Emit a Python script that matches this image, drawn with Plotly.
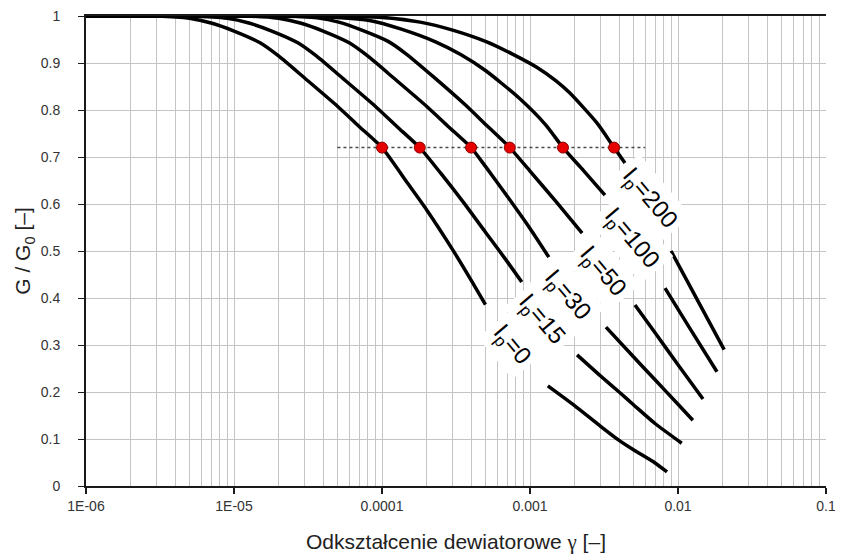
import plotly.graph_objects as go

# ---- data ----
ip_names = ["I<sub>p</sub>=0", "I<sub>p</sub>=15", "I<sub>p</sub>=30",
            "I<sub>p</sub>=50", "I<sub>p</sub>=100", "I<sub>p</sub>=200"]

gamma_ip0 = [1e-6, 3e-6, 5e-6, 7e-6, 1e-5, 1.5e-5, 2e-5, 3e-5, 5e-5, 7e-5, 1e-4,
             1.5e-4, 2e-4, 3e-4, 4e-4, 5e-4, None,
             1.32e-3, 2e-3, 3e-3, 4e-3, 5e-3, 7e-3, 8.43e-3]
g_ip0 = [1.0, 1.0, 0.995, 0.985, 0.968, 0.943, 0.915, 0.868, 0.808, 0.765, 0.72,
         0.643, 0.588, 0.503, 0.438, 0.386, None,
         0.213, 0.171, 0.127, 0.097, 0.077, 0.049, 0.030]

gamma_ip15 = [1e-6, 5e-6, 9e-6, 1.26e-5, 1.8e-5, 2.7e-5, 3.6e-5, 5.4e-5, 9e-5, 1.26e-4, 1.8e-4,
              2.5e-4, 3.5e-4, 5e-4, 7e-4, 8.8e-4, None,
              2.08e-3, 3e-3, 4e-3, 5e-3, 7e-3, 1.06e-2]
g_ip15 = [1.0, 1.0, 0.995, 0.985, 0.968, 0.943, 0.915, 0.868, 0.808, 0.765, 0.72,
          0.665, 0.606, 0.540, 0.478, 0.434, None,
          0.279, 0.234, 0.200, 0.173, 0.133, 0.091]

gamma_ip30 = [1e-6, 1.2e-5, 2e-5, 2.8e-5, 4e-5, 6e-5, 8e-5, 1.2e-4, 2e-4, 2.8e-4, 4e-4,
              5e-4, 7e-4, 1e-3, 1.34e-3, None,
              3.26e-3, 5e-3, 7e-3, 1e-2, 1.26e-2]
g_ip30 = [1.0, 1.0, 0.995, 0.985, 0.968, 0.943, 0.915, 0.868, 0.808, 0.765, 0.72,
          0.68, 0.617, 0.548, 0.487, None,
          0.338, 0.275, 0.226, 0.174, 0.140]

gamma_ip50 = [1e-6, 2.2e-5, 3.65e-5, 5.1e-5, 7.3e-5, 1.1e-4, 1.46e-4, 2.2e-4, 3.65e-4, 5.1e-4, 7.3e-4,
              1e-3, 1.5e-3, 2.25e-3, None,
              5.12e-3, 7e-3, 1e-2, 1.475e-2]
g_ip50 = [1.0, 1.0, 0.996, 0.987, 0.970, 0.946, 0.919, 0.872, 0.811, 0.767, 0.72,
          0.67, 0.605, 0.538, None,
          0.385, 0.326, 0.258, 0.185]

gamma_ip100 = [1e-6, 1.67e-5, 5e-5, 8.4e-5, 1.35e-4, 2.3e-4, 3.4e-4, 5e-4, 8.4e-4, 1.28e-3, 1.67e-3,
               2.3e-3, 3.21e-3, None,
               8.17e-3, 1.2e-2, 1.834e-2]
g_ip100 = [1.0, 1.0, 0.997, 0.990, 0.972, 0.945, 0.918, 0.884, 0.826, 0.768, 0.72,
           0.671, 0.619, None,
           0.421, 0.336, 0.243]

gamma_ip200 = [1e-6, 3.7e-5, 1e-4, 1.81e-4, 3e-4, 5.1e-4, 7.5e-4, 1.11e-3, 1.5e-3, 1.86e-3, 2.84e-3, 3.7e-3,
               4.38e-3, None,
               8.97e-3, 1.4e-2, 2.05e-2]
g_ip200 = [1.0, 1.0, 0.997, 0.987, 0.970, 0.945, 0.920, 0.891, 0.862, 0.836, 0.772, 0.72,
           0.687, None,
           0.500, 0.387, 0.290]

dot_gamma = [1.0e-4, 1.8e-4, 4.0e-4, 7.3e-4, 1.67e-3, 3.7e-3]
dot_g = [0.72, 0.72, 0.72, 0.72, 0.72, 0.72]

ref_gamma = [5e-5, 6e-3]
ref_g = [0.72, 0.72]

x_tickvals = [1e-6, 1e-5, 1e-4, 1e-3, 1e-2, 1e-1]
x_ticktext = ["1E-06", "1E-05", "0.0001", "0.001", "0.01", "0.1"]
y_tickvals = [0, 0.1, 0.2, 0.3, 0.4, 0.5, 0.6, 0.7, 0.8, 0.9, 1.0]
y_ticktext = ["0", "0.1", "0.2", "0.3", "0.4", "0.5", "0.6", "0.7", "0.8", "0.9", "1"]

# label centres (log10 gamma, G) for the rotated curve labels
label_logx = [-3.122, -2.919, -2.75, -2.507, -2.318, -2.196]
label_y = [0.300, 0.353, 0.406, 0.455, 0.526, 0.611]

curves = [(gamma_ip0, g_ip0), (gamma_ip15, g_ip15), (gamma_ip30, g_ip30),
          (gamma_ip50, g_ip50), (gamma_ip100, g_ip100), (gamma_ip200, g_ip200)]

fig = go.Figure()

fig.add_trace(go.Scatter(x=ref_gamma, y=ref_g, mode="lines",
                         line=dict(color="#4a4a4a", width=1.5, dash="dot"),
                         showlegend=False, hoverinfo="skip"))

for (gx, gy), name in zip(curves, ip_names):
    fig.add_trace(go.Scatter(x=gx, y=gy, mode="lines", name=name,
                             line=dict(color="black", width=3.5, shape="spline", smoothing=0.6),
                             connectgaps=False, showlegend=False))

fig.add_trace(go.Scatter(x=dot_gamma, y=dot_g, mode="markers",
                         marker=dict(color="#e60000", size=11,
                                     line=dict(color="#8a0000", width=1)),
                         showlegend=False))

for name, lx, ly in zip(ip_names, label_logx, label_y):
    fig.add_annotation(x=lx, y=ly, xref="x", yref="y", text=name,
                       showarrow=False, textangle=50,
                       font=dict(family="Liberation Sans, Arial", size=24, color="black"),
                       bgcolor="white", borderpad=5)

grid_col = "#c4c4c4"
fig.update_xaxes(type="log", range=[-6, -1],
                 tickmode="array", tickvals=x_tickvals, ticktext=x_ticktext,
                 showgrid=True, gridcolor=grid_col, gridwidth=1,
                 minor=dict(tickmode="linear", dtick="D1", showgrid=True,
                            gridcolor=grid_col, gridwidth=1, ticks=""),
                 showline=True, linecolor="#1a1a1a", linewidth=2, mirror=True,
                 ticks="outside", ticklen=6, tickcolor="#1a1a1a", tickwidth=1.5,
                 ticklabeloverflow="allow",
                 tickfont=dict(family="Liberation Sans Narrow, Arial Narrow, Liberation Sans",
                               size=14, color="#333333"),
                 title=dict(text="Odkształcenie dewiatorowe <span style='font-family:Liberation Serif'>γ</span> [–]",
                            font=dict(family="Liberation Sans, Arial", size=21, color="#222222"),
                            standoff=22),
                 zeroline=False)

fig.update_yaxes(range=[0, 1],
                 tickmode="array", tickvals=y_tickvals, ticktext=y_ticktext,
                 showgrid=True, gridcolor=grid_col, gridwidth=1,
                 showline=True, linecolor="#1a1a1a", linewidth=2,
                 ticks="outside", ticklen=6, tickcolor="#1a1a1a", tickwidth=1,
                 ticklabelstandoff=15, ticklabeloverflow="allow",
                 tickfont=dict(family="Liberation Sans, Arial", size=14, color="#333333"),
                 title=dict(text="G / G<sub>0</sub> [–]",
                            font=dict(family="Liberation Sans, Arial", size=21, color="#222222"),
                            standoff=4),
                 zeroline=False)

fig.update_layout(width=843, height=559,
                  margin=dict(l=78, r=25, t=8, b=81, autoexpand=False),
                  plot_bgcolor="white", paper_bgcolor="white")

fig.write_html("out.html")
